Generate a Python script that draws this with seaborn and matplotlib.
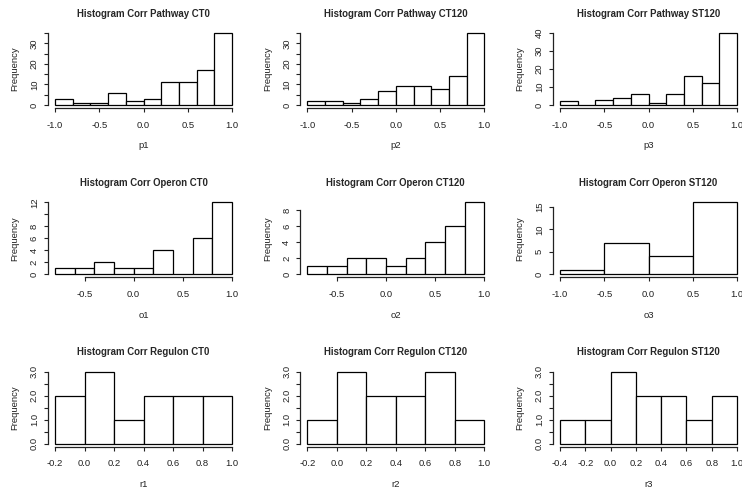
import matplotlib
matplotlib.use("Agg")
import matplotlib.pyplot as plt
import seaborn as sns
import numpy as np
import pandas as pd

sns.set_style("white")
plt.rcParams['font.family'] = ['Liberation Sans', 'DejaVu Sans']

# ---- data ----
titles = ["Histogram Corr Pathway CT0", "Histogram Corr Pathway CT120", "Histogram Corr Pathway ST120",
          "Histogram Corr Operon CT0", "Histogram Corr Operon CT120", "Histogram Corr Operon ST120",
          "Histogram Corr Regulon CT0", "Histogram Corr Regulon CT120", "Histogram Corr Regulon ST120"]
xlabels = ["p1", "p2", "p3", "o1", "o2", "o3", "r1", "r2", "r3"]

breaks_p = [-1.0, -0.8, -0.6, -0.4, -0.2, 0.0, 0.2, 0.4, 0.6, 0.8, 1.0]
breaks_o12 = [-0.8, -0.6, -0.4, -0.2, 0.0, 0.2, 0.4, 0.6, 0.8, 1.0]
breaks_o3 = [-1.0, -0.5, 0.0, 0.5, 1.0]
breaks_r12 = [-0.2, 0.0, 0.2, 0.4, 0.6, 0.8, 1.0]
breaks_r3 = [-0.4, -0.2, 0.0, 0.2, 0.4, 0.6, 0.8, 1.0]

p1_counts = [3, 1, 1, 6, 2, 3, 11, 11, 17, 35]
p2_counts = [2, 2, 1, 3, 7, 9, 9, 8, 14, 35]
p3_counts = [2, 0, 3, 4, 6, 1, 6, 16, 12, 40]
o1_counts = [1, 1, 2, 1, 1, 4, 0, 6, 12]
o2_counts = [1, 1, 2, 2, 1, 2, 4, 6, 9]
o3_counts = [1, 7, 4, 16]
r1_counts = [2, 3, 1, 2, 2, 2]
r2_counts = [1, 3, 2, 2, 3, 1]
r3_counts = [1, 1, 3, 2, 2, 1, 2]

# axis ticks and labels (as in R's default axes, some labels dropped)
xt_p = [-1.0, -0.5, 0.0, 0.5, 1.0]
xt_o12 = [-0.5, 0.0, 0.5, 1.0]
xt_r12 = [-0.2, 0.0, 0.2, 0.4, 0.6, 0.8, 1.0]
xt_r3 = [-0.4, -0.2, 0.0, 0.2, 0.4, 0.6, 0.8, 1.0]

yt_p12 = [0, 5, 10, 15, 20, 25, 30, 35]
yl_p12 = ["0", "", "10", "", "20", "", "30", ""]
yt_p3 = [0, 10, 20, 30, 40]
yl_p3 = ["0", "10", "20", "30", "40"]
yt_o1 = [0, 2, 4, 6, 8, 10, 12]
yl_o1 = ["0", "2", "4", "6", "8", "", "12"]
yt_o2 = [0, 2, 4, 6, 8]
yl_o2 = ["0", "2", "4", "6", "8"]
yt_o3 = [0, 5, 10, 15]
yl_o3 = ["0", "5", "10", "15"]
yt_r = [0, 0.5, 1.0, 1.5, 2.0, 2.5, 3.0]
yl_r = ["0.0", "", "1.0", "", "2.0", "", "3.0"]

panels = [
    (breaks_p, p1_counts, xt_p, yt_p12, yl_p12),
    (breaks_p, p2_counts, xt_p, yt_p12, yl_p12),
    (breaks_p, p3_counts, xt_p, yt_p3, yl_p3),
    (breaks_o12, o1_counts, xt_o12, yt_o1, yl_o1),
    (breaks_o12, o2_counts, xt_o12, yt_o2, yl_o2),
    (breaks_o3, o3_counts, xt_p, yt_o3, yl_o3),
    (breaks_r12, r1_counts, xt_r12, yt_r, yl_r),
    (breaks_r12, r2_counts, xt_r12, yt_r, yl_r),
    (breaks_r3, r3_counts, xt_r3, yt_r, yl_r),
]

W, H = 742, 491
fig = plt.figure(figsize=(W / 100, H / 100), dpi=100)

col_left = [55.0, 307.3, 560.0]
row_top = [33.0, 202.3, 371.7]
span_x = 177.0
span_y = 72.0

FS = 6.8
FS_T = 6.9

for i, (brk, cnt, xt, yt, yl) in enumerate(panels):
    r, c = divmod(i, 3)
    left = col_left[c] - 0.04 * span_x
    width = span_x * 1.08
    top = row_top[r] - 0.04 * span_y
    height = span_y * 1.08
    ax = fig.add_axes([left / W, 1 - (top + height) / H, width / W, height / H])

    edges = np.asarray(brk, dtype=float)
    df = pd.DataFrame({"x": (edges[:-1] + edges[1:]) / 2, "w": np.asarray(cnt, dtype=float)})
    sns.histplot(data=df, x="x", weights="w", bins=list(brk), ax=ax, color="white",
                 edgecolor="black", linewidth=0.9, alpha=1.0)

    x0, x1 = brk[0], brk[-1]
    dx = x1 - x0
    ymax = max(cnt)
    ax.set_xlim(x0 - 0.04 * dx, x1 + 0.04 * dx)
    ax.set_ylim(-0.04 * ymax, ymax * 1.04)

    for s in ["top", "right"]:
        ax.spines[s].set_visible(False)
    for s in ["left", "bottom"]:
        ax.spines[s].set_visible(True)
        ax.spines[s].set_color("#222222")
        ax.spines[s].set_linewidth(0.9)
    ax.spines["left"].set_bounds(yt[0], yt[-1])
    ax.spines["bottom"].set_bounds(xt[0], xt[-1])

    ax.set_xticks(xt)
    ax.set_xticklabels([f"{v:.1f}" for v in xt], fontsize=FS)
    ax.set_yticks(yt)
    ax.set_yticklabels(yl, fontsize=FS, rotation=90, va="center")
    ax.tick_params(axis="both", direction="out", length=3.1, width=0.8,
                   color="#222222", labelcolor="#222222", bottom=True, left=True)
    ax.tick_params(axis="x", pad=6.0)
    ax.tick_params(axis="y", pad=3.4)

    ax.set_xlabel(xlabels[i], fontsize=FS, color="#222222")
    ax.xaxis.set_label_coords(0.5, -38.0 / height)
    ax.xaxis.label.set_va("center")
    ax.set_ylabel("Frequency", fontsize=FS, color="#222222")
    ax.yaxis.set_label_coords(-(left - (col_left[c] - 40.0)) / width, 0.5)
    ax.yaxis.label.set_va("center")

    ax.set_title(titles[i], fontsize=FS_T, fontweight="bold", pad=9.6)
    ax.set_facecolor("white")
    ax.grid(False)

fig.savefig("out.png", dpi=100, facecolor="white")
